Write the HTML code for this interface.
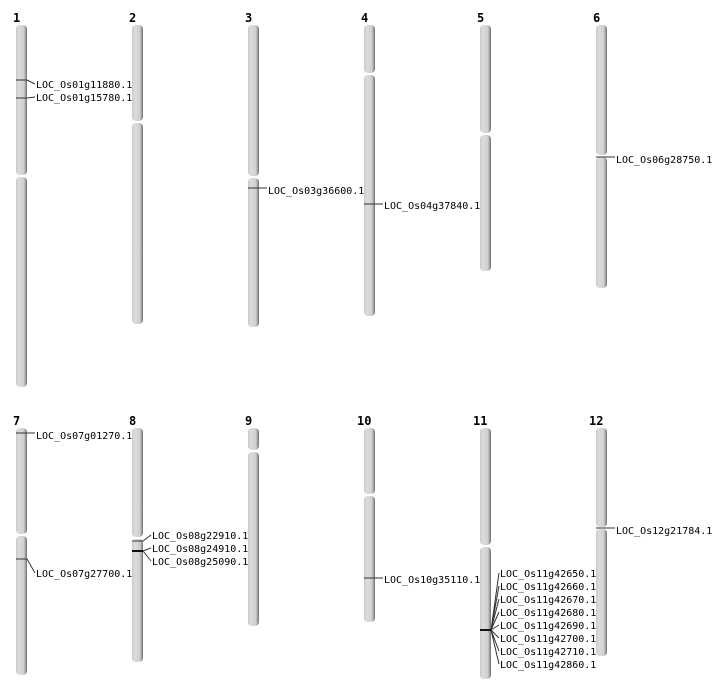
<!DOCTYPE html>
<html><head><meta charset="utf-8"><style>
html,body{margin:0;padding:0;background:#fff;width:712px;height:700px;overflow:hidden}
svg text{font-family:"DejaVu Sans Mono","Liberation Mono",monospace;font-size:10px;fill:#000}
svg text.n{font-family:"DejaVu Sans Mono","Liberation Mono",monospace;font-weight:bold;font-size:12px}
</style></head><body>
<svg width="712" height="700" xmlns="http://www.w3.org/2000/svg">
<defs>
<linearGradient id="g" x1="0" x2="1" y1="0" y2="0">
<stop offset="0" stop-color="#c8c8c8"/>
<stop offset="0.25" stop-color="#dcdcdc"/>
<stop offset="0.7" stop-color="#d0d0d0"/>
<stop offset="0.85" stop-color="#a8a8a8"/>
<stop offset="1" stop-color="#6a6a6a"/>
</linearGradient>
</defs>
<g fill="url(#g)">
<rect x="16" y="25" width="11" height="150" rx="4"/><rect x="16" y="177" width="11" height="210" rx="4"/>
<rect x="132" y="25" width="11" height="96" rx="4"/><rect x="132" y="123" width="11" height="201" rx="4"/>
<rect x="248" y="25" width="11" height="151" rx="4"/><rect x="248" y="178" width="11" height="149" rx="4"/>
<rect x="364" y="25" width="11" height="48" rx="4"/><rect x="364" y="75" width="11" height="241" rx="4"/>
<rect x="480" y="25" width="11" height="108" rx="4"/><rect x="480" y="135" width="11" height="136" rx="4"/>
<rect x="596" y="25" width="11" height="130" rx="4"/><rect x="596" y="157" width="11" height="131" rx="4"/>
<rect x="16" y="428" width="11" height="106" rx="4"/><rect x="16" y="536" width="11" height="139" rx="4"/>
<rect x="132" y="428" width="11" height="109" rx="4"/><rect x="132" y="539" width="11" height="123" rx="4"/>
<rect x="248" y="428" width="11" height="22" rx="4"/><rect x="248" y="452" width="11" height="174" rx="4"/>
<rect x="364" y="428" width="11" height="66" rx="4"/><rect x="364" y="496" width="11" height="126" rx="4"/>
<rect x="480" y="428" width="11" height="117" rx="4"/><rect x="480" y="547" width="11" height="132" rx="4"/>
<rect x="596" y="428" width="11" height="99" rx="4"/><rect x="596" y="529" width="11" height="127" rx="4"/>
</g>
<g>
<text class="n" x="13" y="22">1</text><text class="n" x="129" y="22">2</text><text class="n" x="245" y="22">3</text>
<text class="n" x="361" y="22">4</text><text class="n" x="477" y="22">5</text><text class="n" x="593" y="22">6</text>
<text class="n" x="13" y="425">7</text><text class="n" x="129" y="425">8</text><text class="n" x="245" y="425">9</text>
<text class="n" x="357" y="425">10</text><text class="n" x="473" y="425">11</text><text class="n" x="589" y="425">12</text>
</g>
<g stroke="#333" stroke-width="1" fill="none">
<path d="M16 80H27L35 84M16 98H27L35 97"/>
<path d="M248 188H267"/>
<path d="M364 204H383"/>
<path d="M596 157H615"/>
<path d="M16 433H35"/>
<path d="M16 559H27L35 573"/>
<path d="M132 541H143L151 535"/>
<path d="M143 551L151 548M143 551L151 561"/>
<path d="M364 578H383"/>
<path d="M596 528H615"/>
<path d="M491 630L499 573M491 630L499 586M491 630L499 599M491 630L499 612M491 630L499 625M491 630L499 638M491 630L499 651M491 630L499 664"/>
</g>
<g stroke="#111" stroke-width="2">
<path d="M132 551H143"/>
<path d="M480 630H491"/>
</g>
<g>
<text x="36" y="88">LOC_Os01g11880.1</text>
<text x="36" y="101">LOC_Os01g15780.1</text>
<text x="268" y="194">LOC_Os03g36600.1</text>
<text x="384" y="209">LOC_Os04g37840.1</text>
<text x="616" y="163">LOC_Os06g28750.1</text>
<text x="36" y="439">LOC_Os07g01270.1</text>
<text x="36" y="577">LOC_Os07g27700.1</text>
<text x="152" y="539">LOC_Os08g22910.1</text>
<text x="152" y="552">LOC_Os08g24910.1</text>
<text x="152" y="565">LOC_Os08g25090.1</text>
<text x="384" y="583">LOC_Os10g35110.1</text>
<text x="616" y="534">LOC_Os12g21784.1</text>
<text x="500" y="577">LOC_Os11g42650.1</text>
<text x="500" y="590">LOC_Os11g42660.1</text>
<text x="500" y="603">LOC_Os11g42670.1</text>
<text x="500" y="616">LOC_Os11g42680.1</text>
<text x="500" y="629">LOC_Os11g42690.1</text>
<text x="500" y="642">LOC_Os11g42700.1</text>
<text x="500" y="655">LOC_Os11g42710.1</text>
<text x="500" y="668">LOC_Os11g42860.1</text>
</g>
</svg>
</body></html>
